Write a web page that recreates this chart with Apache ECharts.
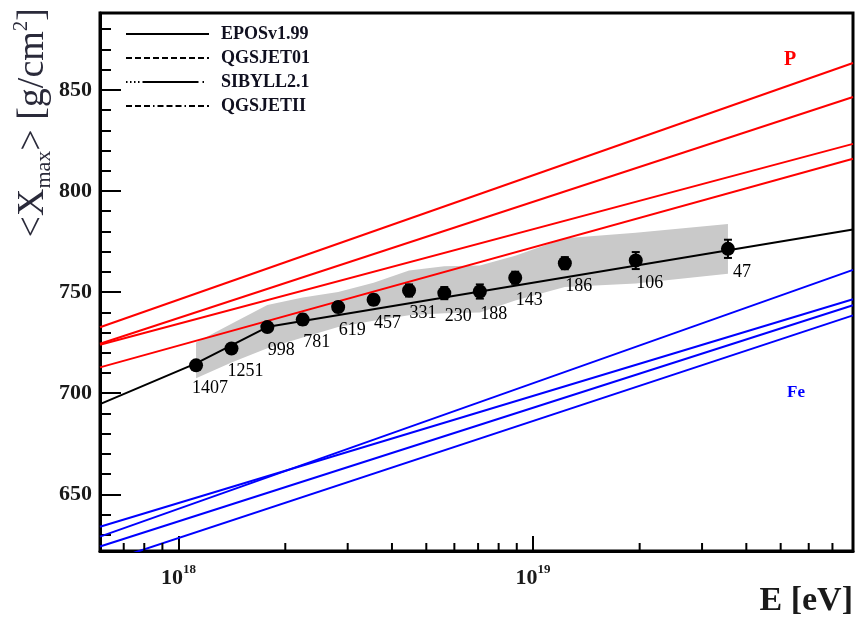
<!DOCTYPE html>
<html><head><meta charset="utf-8">
<script src="https://cdn.jsdelivr.net/npm/echarts@6/dist/echarts.min.js"></script>
<style>html,body{margin:0;padding:0;background:#fff}#c{width:856px;height:623px}</style>
</head><body><div id="c"></div>
<script>
// ---- data ----
const E_MIN = 6e17, E_MAX = 8e19;
const Y_MIN = 622, Y_MAX = 888;
const models = ['EPOSv1.99', 'QGSJET01', 'SIBYLL2.1', 'QGSJETII'];
const lineE = [6e17, 8e19];
const protonLeft  = [732.6, 724.5, 724.0, 712.8];
const protonRight = [863.3, 846.5, 823.3, 815.9];
const ironLeft    = [629.1, 634.0, 624.2, 615.6];
const ironRight   = [761.0, 746.5, 743.5, 738.5];
const fitE = [6e17, 1.12e18, 1.79e18, 8e19];
const fitX = [694.6, 714.8, 732.9, 781.0];
const dataE = [1.12e18, 1.41e18, 1.78e18, 2.24e18, 2.82e18, 3.55e18, 4.47e18, 5.62e18, 7.08e18, 8.91e18, 1.23e19, 1.95e19, 3.55e19];
const dataX = [713.8, 722.1, 732.7, 736.4, 742.6, 746.2, 750.8, 749.5, 750.3, 757.1, 764.3, 765.6, 771.4];
const dataErr = [2, 2, 2, 2.5, 2.5, 2.5, 3, 3, 3.5, 3, 3, 4.2, 4.5];
const counts = [1407, 1251, 998, 781, 619, 457, 331, 230, 188, 143, 186, 106, 47];
const sysUp  = [11.3, 12.3, 10.9, 10.9, 7.4, 8.4, 9.9, 13.3, 12.8, 10.9, 12.3, 13.8, 12.3];
const sysLow = [6.4, 6.9, 10.4, 8.9, 9.9, 10.4, 12.3, 9.9, 10.4, 11.3, 11.8, 11.3, 12.3];
const xMinorTicks = [7e17, 8e17, 9e17, 2e18, 3e18, 4e18, 5e18, 6e18, 7e18, 8e18, 9e18, 2e19, 3e19, 4e19, 5e19, 6e19, 7e19];
const legendDash = ['solid', [6, 3], [1.5, 2.5, 1.5, 2.5, 1.5, 2.5, 1.5, 3, 56, 4, 1.5, 30], [6, 3, 6, 3, 6, 3, 1.5, 3]];

const FONT = "'Liberation Serif','Times New Roman',serif";
const chart = echarts.init(document.getElementById('c'), null, {renderer: 'canvas'});

const series = [];
// systematic band (one polygon through the library's coordinate system)
series.push({type: 'custom', z: 1, silent: true,
  data: dataE.map((e, i) => [e, dataX[i] - sysLow[i], dataX[i] + sysUp[i]]),
  encode: {x: 0, y: [1, 2]},
  renderItem: function (params, api) {
    if (params.dataIndex !== 0) return null;
    const upper = [], lower = [];
    for (let i = 0; i < dataE.length; i++) {
      upper.push(api.coord([dataE[i], dataX[i] + sysUp[i]]));
      lower.unshift(api.coord([dataE[i], dataX[i] - sysLow[i]]));
    }
    return {type: 'polygon', shape: {points: upper.concat(lower)},
      style: {fill: '#c9c9c9', stroke: 'none'}};
  }});
// model predictions
models.forEach((m, i) => {
  series.push({name: m, type: 'line', symbol: 'none', z: 2, silent: true,
    data: [[lineE[0], protonLeft[i]], [lineE[1], protonRight[i]]],
    lineStyle: {color: '#ff0000', width: 2}, itemStyle: {color: '#ff0000'}});
});
models.forEach((m, i) => {
  series.push({name: m, type: 'line', symbol: 'none', z: 2, silent: true,
    data: [[lineE[0], ironLeft[i]], [lineE[1], ironRight[i]]],
    lineStyle: {color: '#0000ff', width: 2}, itemStyle: {color: '#0000ff'}});
});
// broken-line fit
series.push({type: 'line', symbol: 'none', z: 3, silent: true,
  data: fitE.map((e, i) => [e, fitX[i]]),
  lineStyle: {color: '#000', width: 2}});
// error bars
series.push({type: 'custom', z: 4, silent: true,
  data: dataE.map((e, i) => [e, dataX[i], dataErr[i]]),
  encode: {x: 0, y: 1},
  renderItem: function (params, api) {
    const x = api.value(0), y = api.value(1), e = api.value(2);
    const t = api.coord([x, y + e]), b = api.coord([x, y - e]);
    const w = 4, st = {stroke: '#000', lineWidth: 2};
    return {type: 'group', children: [
      {type: 'line', shape: {x1: t[0], y1: t[1], x2: b[0], y2: b[1]}, style: st},
      {type: 'line', shape: {x1: t[0] - w, y1: t[1], x2: t[0] + w, y2: t[1]}, style: st},
      {type: 'line', shape: {x1: b[0] - w, y1: b[1], x2: b[0] + w, y2: b[1]}, style: st}
    ]};
  }});
// data points
series.push({type: 'scatter', z: 5, symbol: 'circle', symbolSize: 14,
  data: dataE.map((e, i) => [e, dataX[i]]),
  itemStyle: {color: '#000', opacity: 1},
  emphasis: {disabled: true},
  label: {show: true, position: 'bottom', distance: 4, offset: [14, 3],
    formatter: p => String(counts[p.dataIndex]),
    fontFamily: FONT, fontSize: 18, color: '#000', opacity: 1,
    textBorderWidth: 0, textShadowBlur: 0}});
// minor ticks of the log axis
series.push({type: 'custom', z: 6, silent: true,
  data: xMinorTicks.map(v => [v, Y_MIN]),
  encode: {x: 0, y: 1},
  renderItem: function (params, api) {
    const p = api.coord([api.value(0), api.value(1)]);
    return {type: 'line', shape: {x1: p[0], y1: p[1], x2: p[0], y2: p[1] - 8},
      style: {stroke: '#000', lineWidth: 2}};
  }});

const option = {
  animation: false,
  backgroundColor: '#fff',
  grid: {left: 100, top: 13, right: 2, bottom: 72, show: true, borderColor: '#000', borderWidth: 3},
  legend: {
    left: 125, top: 25, orient: 'vertical', padding: 0,
    itemWidth: 83, itemHeight: 16, itemGap: 6,
    data: models.map((m, i) => ({name: m, lineStyle: {type: legendDash[i], color: '#000', width: 2}, itemStyle: {opacity: 0}})),
    lineStyle: {color: '#000', width: 2},
    itemStyle: {opacity: 0},
    textStyle: {fontFamily: FONT, fontWeight: 'bold', fontSize: 18, color: '#101020', padding: [0, 0, 0, 7]},
    selectedMode: false
  },
  xAxis: {
    type: 'log', logBase: 10, min: E_MIN, max: E_MAX,
    axisLine: {show: true, onZero: false, lineStyle: {color: '#000', width: 3}},
    axisTick: {show: true, inside: true, length: 15, lineStyle: {color: '#000', width: 2}},
    splitLine: {show: false},
    axisLabel: {
      margin: 12,
      formatter: function (v) {
        const e = Math.log10(v);
        if (Math.abs(e - Math.round(e)) < 1e-6) return '{b|10}{s|' + Math.round(e) + '}';
        return '';
      },
      rich: {
        b: {fontFamily: FONT, fontWeight: 'bold', fontSize: 22, color: '#1a1a1a', lineHeight: 26, verticalAlign: 'bottom'},
        s: {fontFamily: FONT, fontWeight: 'bold', fontSize: 13, color: '#1a1a1a', lineHeight: 14, verticalAlign: 'top'}
      }
    }
  },
  yAxis: {
    type: 'value', min: Y_MIN, max: Y_MAX,
    axisLine: {show: true, lineStyle: {color: '#000', width: 3}},
    axisTick: {show: true, inside: true, length: 21, lineStyle: {color: '#000', width: 2}},
    minorTick: {show: true, splitNumber: 5, length: 11, lineStyle: {color: '#000', width: 2}},
    splitLine: {show: false},
    minorSplitLine: {show: false},
    axisLabel: {
      margin: 8,
      formatter: v => (Math.abs(v % 50) < 1e-6 ? String(v) : ''),
      fontFamily: FONT, fontWeight: 'bold', fontSize: 22, color: '#1a1a1a'
    }
  },
  graphic: [
    {type: 'text', x: 33, y: 8, rotation: Math.PI / 2, z: 10,
      style: {
        text: '{n|<X}{sub|max}{n|> [g/cm}{sup|2}{n|]}',
        align: 'right', verticalAlign: 'middle',
        rich: {
          n: {fontFamily: FONT, fontSize: 38, fill: '#2a2a3a', lineHeight: 44, verticalAlign: 'middle'},
          sub: {fontFamily: FONT, fontSize: 22, fill: '#2a2a3a', lineHeight: 22, verticalAlign: 'bottom'},
          sup: {fontFamily: FONT, fontSize: 21, fill: '#2a2a3a', lineHeight: 21, verticalAlign: 'top'}
        }
      }},
    {type: 'text', x: 853, y: 601, z: 10,
      style: {text: 'E [eV]', align: 'right', verticalAlign: 'middle', fill: '#1a1a1a',
        font: 'bold 34px ' + FONT}},
    {type: 'text', x: 790, y: 60, z: 10,
      style: {text: 'P', align: 'center', verticalAlign: 'middle', fill: '#ff0000',
        font: 'bold 20px ' + FONT}},
    {type: 'text', x: 796, y: 393, z: 10,
      style: {text: 'Fe', align: 'center', verticalAlign: 'middle', fill: '#0000ff',
        font: 'bold 17px ' + FONT}}
  ],
  series: series
};
chart.setOption(option);
</script></body></html>
